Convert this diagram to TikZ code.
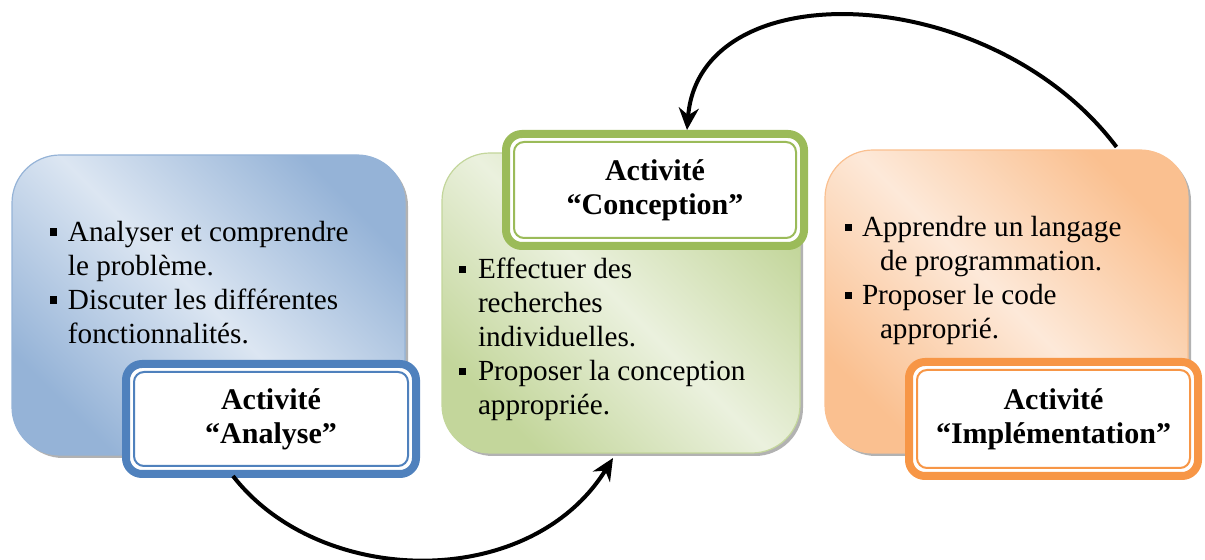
\documentclass[tikz,border=0pt]{standalone}
\usepackage{fontspec}
\setmainfont{Liberation Serif}
\usetikzlibrary{arrows.meta,calc,shadows}
\definecolor{bdark}{HTML}{95B3D7}
\definecolor{blight}{HTML}{DCE6F2}
\definecolor{gdark}{HTML}{C3D69B}
\definecolor{glight}{HTML}{EBF1DE}
\definecolor{odark}{HTML}{FAC090}
\definecolor{olight}{HTML}{FDE9D9}
\definecolor{bline}{HTML}{4F81BD}
\definecolor{gline}{HTML}{9BBB59}
\definecolor{oline}{HTML}{F79646}
\newcommand\bul[1]{\makebox[#1][l]{\rule[3pt]{3.6pt}{3.6pt}}}
\begin{document}
\begin{tikzpicture}[x=0.5pt,y=-0.5pt,
  bigbox/.style n args={2}{draw=#1, line width=0.6pt, rounded corners=24pt,
    inner sep=0pt, outer sep=0pt,
    top color=#1, bottom color=#1, middle color=#2, shading angle=-45,
    drop shadow={shadow xshift=1.5pt, shadow yshift=-1.5pt, fill=black!60, opacity=0.5}},
  lbl/.style={draw=#1, line width=4pt, fill=white, rounded corners=8pt,
    inner sep=0pt, outer sep=0pt, align=center,
    font=\bfseries\fontsize{15pt}{17pt}\selectfont},
  inner/.style={draw=#1, line width=1pt, rounded corners=5pt},
  btext/.style={anchor=base west, inner sep=0pt, outer sep=0pt,
    font=\fontsize{14.6pt}{17pt}\selectfont},
  conn/.style={line width=2pt, -{Stealth[length=11pt,width=10pt]}}]
\useasboundingbox (0,0) rectangle (1205,560);

% big boxes
\node[bigbox={bdark}{blight}, minimum width=196.5pt, minimum height=150pt] (boxA) at (208.5,305) {};
\node[bigbox={gdark}{glight}, minimum width=179pt, minimum height=150pt] (boxB) at (621,303) {};
\node[bigbox={odark}{olight}, minimum width=181.5pt, minimum height=151.5pt] (boxC) at (1006.5,301.5) {};

% bullet texts
\node[btext] (txtA) at (50,241.7) {\begin{tabular}[t]{@{}l@{}}
\bul{9pt}Analyser et comprendre\\
\hspace*{9pt}le problème.\\
\bul{9pt}Discuter les différentes\\
\hspace*{9pt}fonctionnalités.
\end{tabular}};
\node[btext] (txtB) at (459,279) {\begin{tabular}[t]{@{}l@{}}
\bul{9.5pt}Effectuer des\\
\hspace*{9.5pt}recherches\\
\hspace*{9.5pt}individuelles.\\
\bul{9.5pt}Proposer la conception\\
\hspace*{9.5pt}appropriée.
\end{tabular}};
\node[btext] (txtC) at (845,237) {\begin{tabular}[t]{@{}l@{}}
\bul{8.5pt}Apprendre un langage\\
\hspace*{17.5pt}de programmation.\\
\bul{8.5pt}Proposer le code\\
\hspace*{17.5pt}approprié.
\end{tabular}};

% labels
\node[lbl=bline, minimum width=145pt, minimum height=55pt] (lblA) at (271,419) {Activité\\“Analyse”};
\draw[inner=bline] ($(lblA.north west)+(4pt,-4pt)$) rectangle ($(lblA.south east)+(-4pt,4pt)$);
\node[lbl=gline, minimum width=149pt, minimum height=56pt] (lblB) at (655,190) {Activité\\“Conception”};
\draw[inner=gline] ($(lblB.north west)+(4pt,-4pt)$) rectangle ($(lblB.south east)+(-4pt,4pt)$);
\node[lbl=oline, minimum width=144.5pt, minimum height=57pt] (lblC) at (1053.5,419) {Activité\\“Implémentation”};
\draw[inner=oline] ($(lblC.north west)+(4pt,-4pt)$) rectangle ($(lblC.south east)+(-4pt,4pt)$);

% connectors
\draw[conn] ($(lblA.south)+(-38,2)$) .. controls +(87,112) and +(-83,134) .. ($(boxB.south)+(-8,5)$);
\draw[conn] ($(boxC.north)+(110,-3)$) .. controls +(-125,-166) and +(13,-160) .. ($(lblB.north)+(32,-4)$);
\end{tikzpicture}
\end{document}
